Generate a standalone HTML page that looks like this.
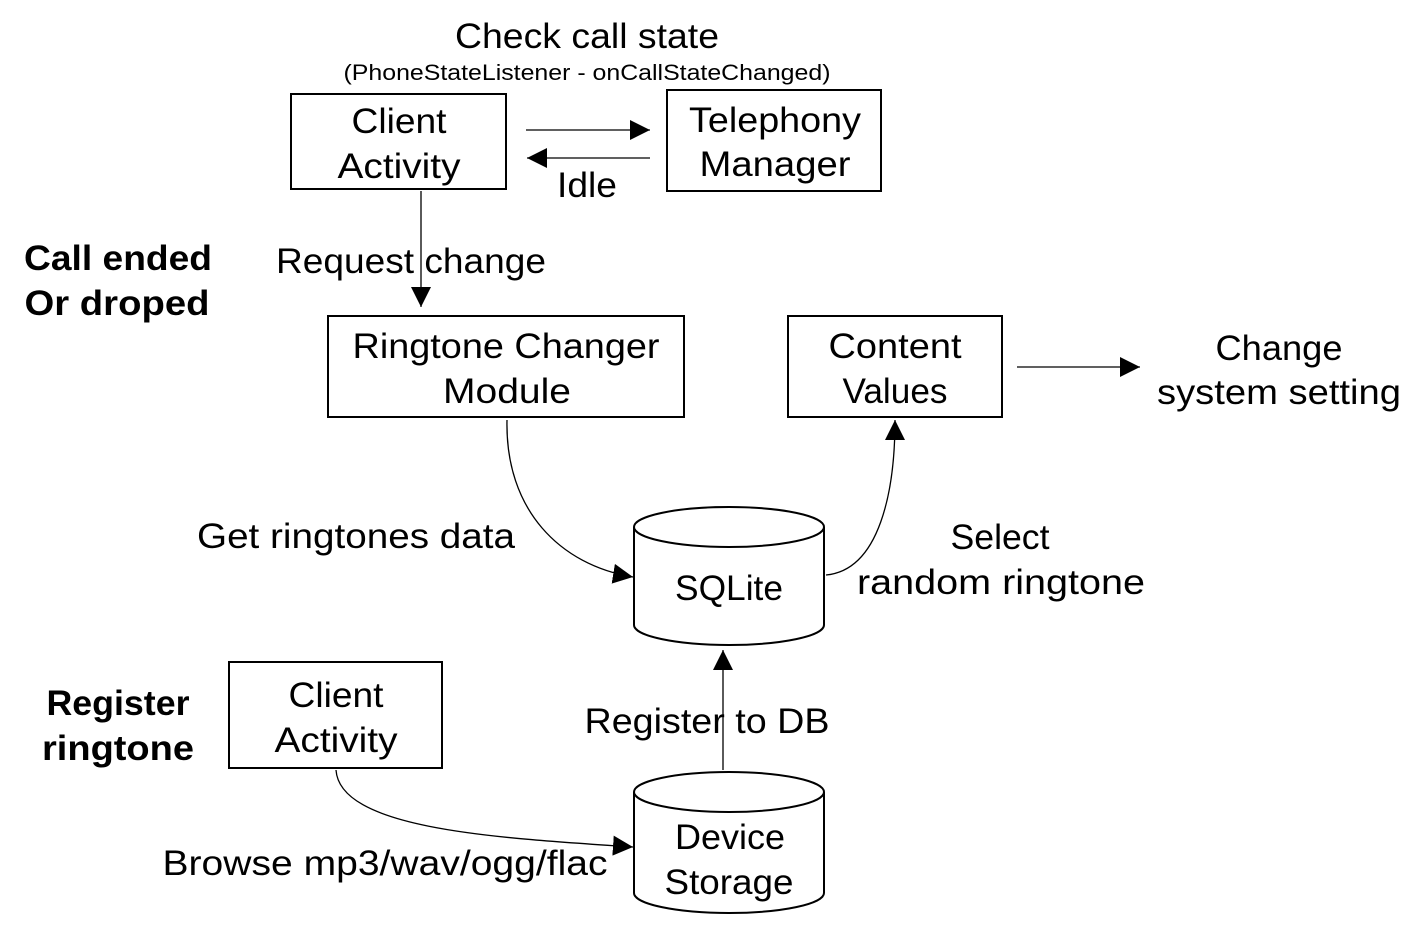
<!DOCTYPE html>
<html><head><meta charset="utf-8"><style>
html,body{margin:0;padding:0;background:#fff;}
svg{display:block;}
text{font-family:"Liberation Sans","NanumGothic",sans-serif;fill:#000;}
</style></head><body>
<svg width="1426" height="926" viewBox="0 0 1426 926" xmlns="http://www.w3.org/2000/svg">
<defs>
<marker id="b" viewBox="0 0 10 10" refX="10" refY="5" markerWidth="20" markerHeight="20" markerUnits="userSpaceOnUse" orient="auto"><path d="M0,0 L10,5 L0,10 z" fill="#000"/></marker></defs>
<g font-size="35" text-anchor="middle" lengthAdjust="spacingAndGlyphs">
<text x="587" y="48" textLength="264" lengthAdjust="spacingAndGlyphs">Check call state</text>
<text x="587" y="80" font-size="22" textLength="487" lengthAdjust="spacingAndGlyphs">(PhoneStateListener - onCallStateChanged)</text>
<text x="399" y="133" textLength="95" lengthAdjust="spacingAndGlyphs">Client</text><text x="399" y="178" textLength="123" lengthAdjust="spacingAndGlyphs">Activity</text>
<text x="775" y="132" textLength="172" lengthAdjust="spacingAndGlyphs">Telephony</text><text x="775" y="176" textLength="151" lengthAdjust="spacingAndGlyphs">Manager</text>
<text x="587" y="197" textLength="60" lengthAdjust="spacingAndGlyphs">Idle</text>
<text x="411" y="273" textLength="270" lengthAdjust="spacingAndGlyphs">Request change</text>
<text x="506" y="358" textLength="307" lengthAdjust="spacingAndGlyphs">Ringtone Changer</text><text x="507" y="403" textLength="128" lengthAdjust="spacingAndGlyphs">Module</text>
<text x="895" y="358" textLength="133" lengthAdjust="spacingAndGlyphs">Content</text><text x="895" y="403" textLength="105" lengthAdjust="spacingAndGlyphs">Values</text>
<text x="1279" y="360" textLength="127" lengthAdjust="spacingAndGlyphs">Change</text><text x="1279" y="404" textLength="244" lengthAdjust="spacingAndGlyphs">system setting</text>
<text x="356" y="548" textLength="318" lengthAdjust="spacingAndGlyphs">Get ringtones data</text>
<text x="729" y="600" textLength="108" lengthAdjust="spacingAndGlyphs">SQLite</text>
<text x="1000" y="549" textLength="99" lengthAdjust="spacingAndGlyphs">Select</text><text x="1001" y="594" textLength="288" lengthAdjust="spacingAndGlyphs">random ringtone</text>
<text x="336" y="707" textLength="95" lengthAdjust="spacingAndGlyphs">Client</text><text x="336" y="752" textLength="123" lengthAdjust="spacingAndGlyphs">Activity</text>
<text x="707" y="733" textLength="245" lengthAdjust="spacingAndGlyphs">Register to DB</text>
<text x="730" y="849" textLength="110" lengthAdjust="spacingAndGlyphs">Device</text><text x="729" y="894" textLength="129" lengthAdjust="spacingAndGlyphs">Storage</text>
<text x="385" y="875" textLength="445" lengthAdjust="spacingAndGlyphs">Browse mp3/wav/ogg/flac</text>
<g font-weight="bold"><text x="118" y="270" textLength="188" lengthAdjust="spacingAndGlyphs">Call ended</text><text x="117" y="315" textLength="185" lengthAdjust="spacingAndGlyphs">Or droped</text>
<text x="118" y="715" textLength="143" lengthAdjust="spacingAndGlyphs">Register</text><text x="118" y="760" textLength="152" lengthAdjust="spacingAndGlyphs">ringtone</text></g>
</g>
<g fill="none" stroke="#000" stroke-width="2">
<rect x="291" y="94" width="215" height="95"/>
<rect x="667" y="90" width="214" height="101"/>
<rect x="328" y="316" width="356" height="101"/>
<rect x="788" y="316" width="214" height="101"/>
<rect x="229" y="662" width="213" height="106"/>
<path d="M634,527 A95,20 0 0 1 824,527 L824,625 A95,20 0 0 1 634,625 Z M634,527 A95,20 0 0 0 824,527"/>
<path d="M634,792 A95,20 0 0 1 824,792 L824,893 A95,20 0 0 1 634,893 Z M634,792 A95,20 0 0 0 824,792"/>
</g>
<g fill="none" stroke="#000" stroke-width="1.3">
<line x1="526" y1="130" x2="650" y2="130" marker-end="url(#b)"/>
<line x1="650" y1="158" x2="527" y2="158" marker-end="url(#b)"/>
<line x1="421" y1="191" x2="421" y2="307" marker-end="url(#b)"/>
<line x1="1017" y1="367" x2="1140" y2="367" marker-end="url(#b)"/>
<path d="M507,420 C505,510 560,565 633,577" marker-end="url(#b)"/>
<path d="M826,575 C880,570 895,490 895,420" marker-end="url(#b)"/>
<line x1="723" y1="770" x2="723" y2="650" marker-end="url(#b)"/>
<path d="M336,770 C340,830 500,838 633,847" marker-end="url(#b)"/>
</g>
</svg>
</body></html>
